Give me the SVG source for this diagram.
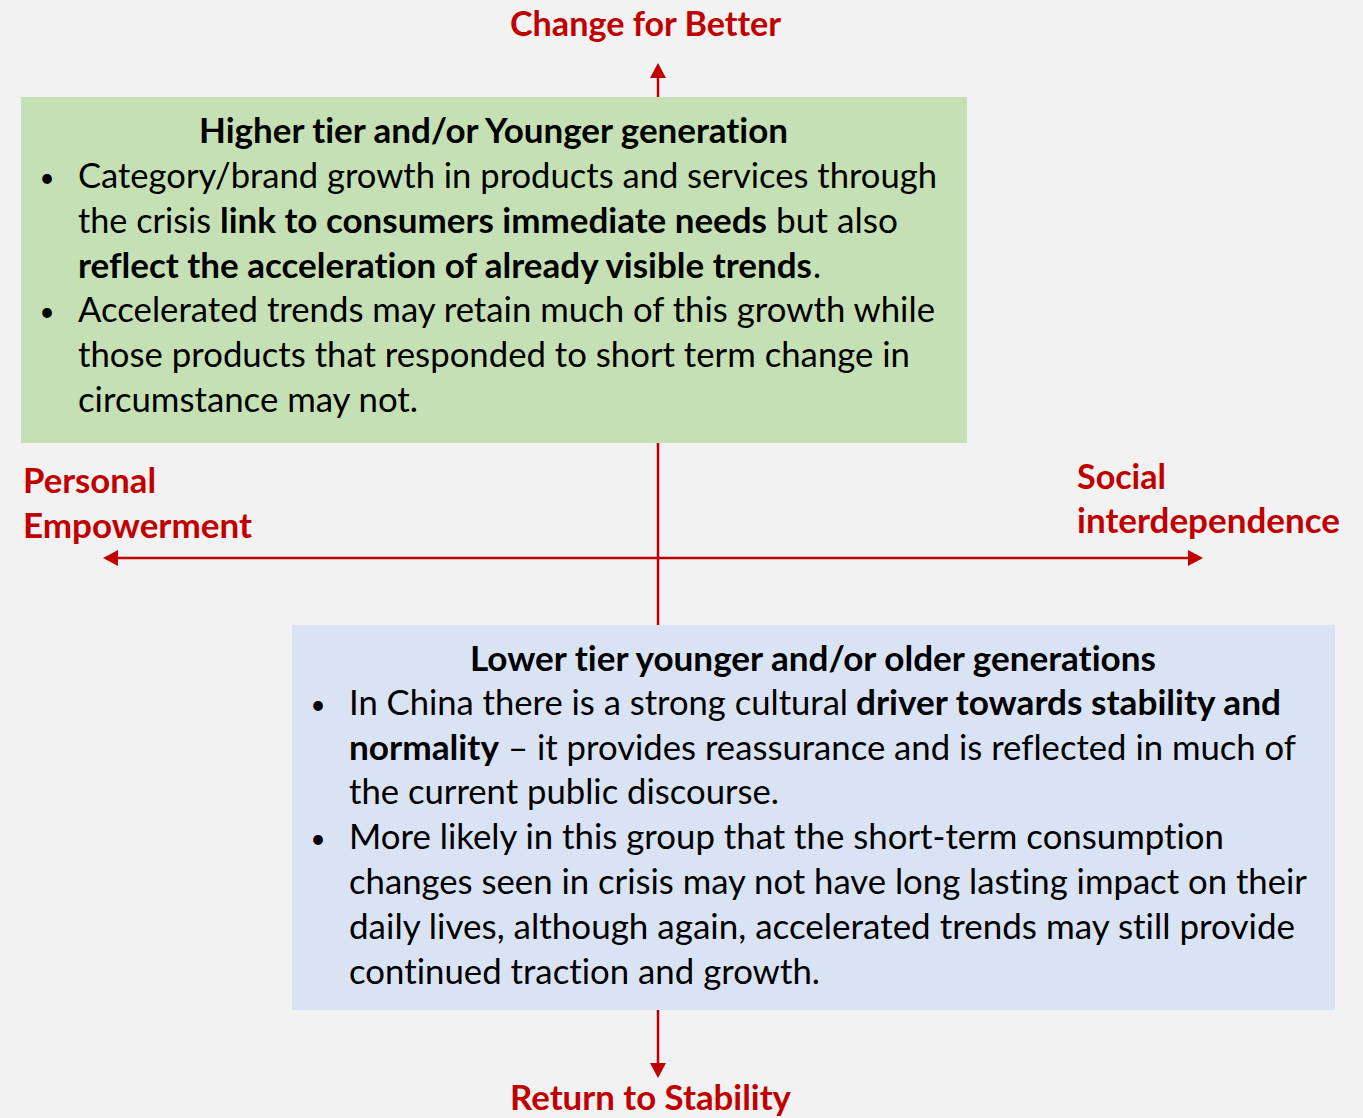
<svg xmlns="http://www.w3.org/2000/svg" width="1363" height="1118" viewBox="0 0 1363 1118">
  <style>
    text { font-family: Lato, "Liberation Sans", sans-serif; font-size: 34px; fill: #000; font-variant-ligatures: none; font-feature-settings: "liga" 0, "clig" 0; }
    .b { font-weight: bold; }
    .lbl { font-weight: bold; fill: #c00000; }
    .bul { text-anchor: middle; font-size: 26px; }
    .axis { stroke: #c00000; stroke-width: 2.5; fill: none; }
  </style>
  <defs>
    <marker id="head" markerUnits="userSpaceOnUse" markerWidth="16" markerHeight="18" viewBox="0 -9 16 18" refX="0" refY="0" orient="auto-start-reverse">
      <path d="M0,-8 L15,0 L0,8 Z" fill="#c00000"/>
    </marker>
  </defs>
  <rect x="0" y="0" width="1363" height="1118" fill="#f2f2f2"/>

  <g id="connectors">
    <line class="axis" x1="658" y1="78" x2="658" y2="1063" marker-start="url(#head)" marker-end="url(#head)"/>
    <line class="axis" x1="118" y1="558" x2="1188" y2="558" marker-start="url(#head)" marker-end="url(#head)"/>
  </g>

  <g id="labels">
    <text class="lbl" x="510" y="36" textLength="271" lengthAdjust="spacingAndGlyphs">Change for Better</text>
    <text class="lbl" x="510" y="1110" textLength="281" lengthAdjust="spacingAndGlyphs">Return to Stability</text>
    <text class="lbl" x="23" y="493" textLength="133" lengthAdjust="spacingAndGlyphs">Personal</text>
    <text class="lbl" x="23" y="538" textLength="229" lengthAdjust="spacingAndGlyphs">Empowerment</text>
    <text class="lbl" x="1077" y="489" textLength="89" lengthAdjust="spacingAndGlyphs">Social</text>
    <text class="lbl" x="1077" y="533" textLength="263" lengthAdjust="spacingAndGlyphs">interdependence</text>
  </g>

  <g id="higher-tier">
    <rect x="21" y="97" width="946" height="346" fill="#c5e0b4"/>
    <text class="b" x="199" y="143" textLength="589" lengthAdjust="spacingAndGlyphs">Higher tier and/or Younger generation</text>
    <text class="bul" x="47" y="187">•</text>
    <text x="78" y="188" textLength="859" lengthAdjust="spacingAndGlyphs">Category/brand growth in products and services through</text>
    <text x="78" y="233" textLength="133" lengthAdjust="spacingAndGlyphs">the crisis</text>
    <text class="b" x="220" y="233" textLength="547" lengthAdjust="spacingAndGlyphs">link to consumers immediate needs</text>
    <text x="776" y="233" textLength="122" lengthAdjust="spacingAndGlyphs">but also</text>
    <text class="b" x="78" y="278" textLength="734" lengthAdjust="spacingAndGlyphs">reflect the acceleration of already visible trends</text>
    <text x="813" y="278">.</text>
    <text class="bul" x="47" y="321">•</text>
    <text x="78" y="322" textLength="857" lengthAdjust="spacingAndGlyphs">Accelerated trends may retain much of this growth while</text>
    <text x="78" y="367" textLength="832" lengthAdjust="spacingAndGlyphs">those products that responded to short term change in</text>
    <text x="78" y="412" textLength="340" lengthAdjust="spacingAndGlyphs">circumstance may not.</text>
  </g>

  <g id="lower-tier">
    <rect x="292" y="625" width="1043" height="385" fill="#dae3f3"/>
    <text class="b" x="470" y="671" textLength="686" lengthAdjust="spacingAndGlyphs">Lower tier younger and/or older generations</text>
    <text class="bul" x="318" y="714">•</text>
    <text x="349" y="715" textLength="499" lengthAdjust="spacingAndGlyphs">In China there is a strong cultural</text>
    <text class="b" x="856" y="715" textLength="425" lengthAdjust="spacingAndGlyphs">driver towards stability and</text>
    <text class="b" x="349" y="760" textLength="150" lengthAdjust="spacingAndGlyphs">normality</text>
    <text x="508" y="760" textLength="788" lengthAdjust="spacingAndGlyphs">– it provides reassurance and is reflected in much of</text>
    <text x="349" y="804" textLength="430" lengthAdjust="spacingAndGlyphs">the current public discourse.</text>
    <text class="bul" x="318" y="848">•</text>
    <text x="349" y="849" textLength="875" lengthAdjust="spacingAndGlyphs">More likely in this group that the short-term consumption</text>
    <text x="349" y="894" textLength="958" lengthAdjust="spacingAndGlyphs">changes seen in crisis may not have long lasting impact on their</text>
    <text x="349" y="939" textLength="946" lengthAdjust="spacingAndGlyphs">daily lives, although again, accelerated trends may still provide</text>
    <text x="349" y="984" textLength="471" lengthAdjust="spacingAndGlyphs">continued traction and growth.</text>
  </g>
</svg>
